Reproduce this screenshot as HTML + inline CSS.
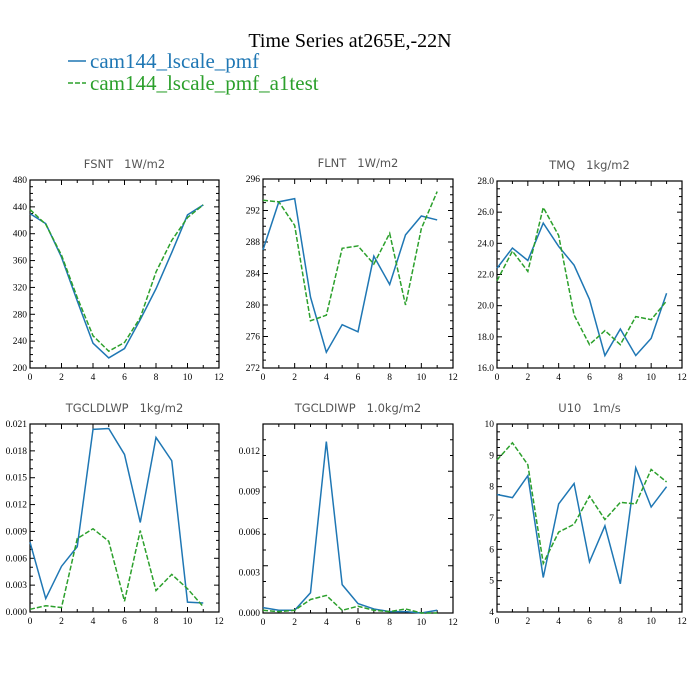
<!DOCTYPE html>
<html><head><meta charset="utf-8"><style>
body{margin:0;background:#fff;}
svg{display:block;}
text{white-space:pre;}
</style></head><body>
<svg id="chart" width="700" height="700" xmlns="http://www.w3.org/2000/svg">
<rect width="700" height="700" fill="#fff"/>
<text x="350" y="47" text-anchor="middle" font-family="Liberation Serif, serif" font-size="20">Time Series at265E,-22N</text>
<g>
<line x1="68" y1="61" x2="86" y2="61" stroke="#1f77b4" stroke-width="1.5"/>
<text x="90" y="68" font-family="Liberation Serif, serif" font-size="21" fill="#1f77b4">cam144_lscale_pmf</text>
<line x1="68" y1="83" x2="86" y2="83" stroke="#2ca02c" stroke-width="1.5" stroke-dasharray="5,2"/>
<text x="90" y="90" font-family="Liberation Serif, serif" font-size="21" fill="#2ca02c">cam144_lscale_pmf_a1test</text>
</g>
</svg>
<script>
const months = [0,1,2,3,4,5,6,7,8,9,10,11];
const xTicks = [0,2,4,6,8,10,12];
const fsntBlue = [430,415,365,300,237,215,229,272,318,372,428,443];
const fsntGreen = [436,414,368,305,248,225,238,275,343,390,424,443];
const fsntTicks = ["200","240","280","320","360","400","440","480"];
const flntBlue = [287,293.1,293.5,281,274,277.5,276.6,286.2,282.6,288.9,291.3,290.8];
const flntGreen = [293.3,293.1,290.1,278,278.7,287.2,287.5,285.2,289.1,280,289.7,294.4];
const flntTicks = ["272","276","280","284","288","292","296"];
const tmqBlue = [22.4,23.7,22.9,25.3,23.8,22.6,20.4,16.8,18.5,16.8,17.9,20.8];
const tmqGreen = [21.6,23.5,22.2,26.3,24.5,19.4,17.5,18.4,17.5,19.3,19.1,20.3];
const tmqTicks = ["16.0","18.0","20.0","22.0","24.0","26.0","28.0"];
const lwpBlue = [0.0078,0.0015,0.0051,0.0073,0.0204,0.0205,0.0176,0.0100,0.0195,0.0169,0.0011,0.0010];
const lwpGreen = [0.0003,0.0007,0.0005,0.0082,0.0093,0.0079,0.0012,0.0091,0.0024,0.0042,0.0026,0.0006];
const lwpTicks = ["0.000","0.003","0.006","0.009","0.012","0.015","0.018","0.021"];
const iwpBlue = [0.0004,0.0002,0.0002,0.0015,0.0127,0.0021,0.0007,0.0003,0.0001,0.0001,0.0000,0.0002];
const iwpGreen = [0.0002,0.0001,0.0002,0.0010,0.0013,0.0002,0.0005,0.0002,0.0001,0.0003,0.0000,0.0000];
const iwpTicks = ["0.000","0.003","0.006","0.009","0.012"];
const u10Blue = [7.75,7.65,8.35,5.1,7.45,8.1,5.6,6.75,4.9,8.6,7.35,8.0];
const u10Green = [8.85,9.4,8.7,5.55,6.55,6.8,7.7,6.95,7.5,7.45,8.55,8.15];
const u10Ticks = ["4","5","6","7","8","9","10"];

const NS="http://www.w3.org/2000/svg";
const svg=document.getElementById('chart');
function mk(tag,attrs,parent){const e=document.createElementNS(NS,tag);for(const k in attrs)e.setAttribute(k,attrs[k]);parent.appendChild(e);return e;}

const panels=[
 {id:'fsnt',title:'FSNT   1W/m2',L:30,R:219,T:180,B:368,ymin:200,ymax:480,ticks:fsntTicks,minor:4,b:fsntBlue,g:fsntGreen},
 {id:'flnt',title:'FLNT   1W/m2',L:263,R:453,T:179,B:368,ymin:272,ymax:296,ticks:flntTicks,minor:4,b:flntBlue,g:flntGreen},
 {id:'tmq',title:'TMQ   1kg/m2',L:497,R:682,T:181,B:368,ymin:16,ymax:28,ticks:tmqTicks,minor:4,b:tmqBlue,g:tmqGreen},
 {id:'tgcldlwp',title:'TGCLDLWP   1kg/m2',L:30,R:219,T:424,B:612,ymin:0,ymax:0.021,ticks:lwpTicks,minor:3,b:lwpBlue,g:lwpGreen},
 {id:'tgcldiwp',title:'TGCLDIWP   1.0kg/m2',L:263,R:453,T:424,B:613,ymin:0,ymax:0.014,ticks:iwpTicks,minor:3,b:iwpBlue,g:iwpGreen},
 {id:'u10',title:'U10   1m/s',L:497,R:682,T:424,B:612,ymin:4,ymax:10,ticks:u10Ticks,minor:4,b:u10Blue,g:u10Green}
];

panels.forEach(p=>{
 const g=mk('g',{},svg);
 
 
 const xs=v=>p.L+(v/12)*(p.R-p.L);
 const ys=v=>p.B-(v-p.ymin)/(p.ymax-p.ymin)*(p.B-p.T);
 const t=mk('text',{x:(p.L+p.R)/2,y:p.T-12,'text-anchor':'middle','font-family':'DejaVu Sans, sans-serif','font-size':'11.5',fill:'#555'},g);
 
 
 t.textContent=p.title;
 for(let i=0;i<=12;i++){
  const x=xs(i);const len=(i%2===0)?5:3;
  mk('line',{x1:x,y1:p.B,x2:x,y2:p.B-len,stroke:'#000','stroke-width':1},g);
  mk('line',{x1:x,y1:p.T,x2:x,y2:p.T+len,stroke:'#000','stroke-width':1},g);
 }
 xTicks.forEach(v=>{
  const tx=mk('text',{x:xs(v),y:p.B+12,'text-anchor':'middle','font-family':'Liberation Serif, serif','font-size':'9.5'},g);
  
  
  tx.textContent=String(v);
 });
 const n=p.ticks.length;
 const step=(p.ymax-p.ymin)/(parseFloat(p.ticks[n-1])-parseFloat(p.ticks[0]))*(parseFloat(p.ticks[1])-parseFloat(p.ticks[0]));
 const y0=parseFloat(p.ticks[0]);
 for(let v=y0;v<=p.ymax+1e-9;v+=step/p.minor){
  const y=ys(v);if(y<p.T-0.5)break;
  const isMaj=Math.abs(((v-y0)/step)-Math.round((v-y0)/step))<1e-6;
  const len=isMaj?5:3;
  mk('line',{x1:p.L,y1:y,x2:p.L+len,y2:y,stroke:'#000','stroke-width':1},g);
  mk('line',{x1:p.R,y1:y,x2:p.R-len,y2:y,stroke:'#000','stroke-width':1},g);
 }
 p.ticks.forEach(lab=>{
  const v=parseFloat(lab);
  const ty=mk('text',{x:p.L-3,y:ys(v)+3,'text-anchor':'end','font-family':'Liberation Serif, serif','font-size':'9.5'},g);
  
  
  ty.textContent=lab;
 });
 const fr=mk('rect',{x:p.L,y:p.T,width:p.R-p.L,height:p.B-p.T,fill:'none',stroke:'#000','stroke-width':1.2},g);
 
 
 const pb=mk('polyline',{points:months.map((m,i)=>xs(m)+','+ys(p.b[i])).join(' '),fill:'none',stroke:'#1f77b4','stroke-width':1.5},g);
 
 
 const pg=mk('polyline',{points:months.map((m,i)=>xs(m)+','+ys(p.g[i])).join(' '),fill:'none',stroke:'#2ca02c','stroke-width':1.5,'stroke-dasharray':'5,2'},g);
 
 
});
</script>
</body></html>
